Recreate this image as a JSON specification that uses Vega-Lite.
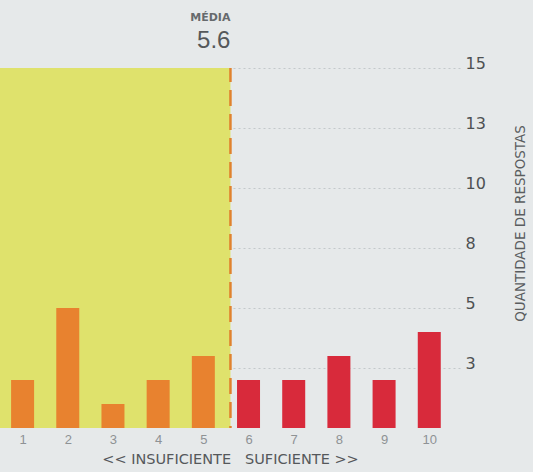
{
  "$schema": "https://vega.github.io/schema/vega-lite/v6.json",
  "width": 460,
  "height": 360,
  "autosize": "none",
  "padding": {"left": 0, "top": 68, "right": 73, "bottom": 44},
  "background": "#e6e9ea",
  "config": {
    "view": {"stroke": null},
    "font": "Liberation Sans"
  },
  "datasets": {
    "scores": [
      {"nota": 1, "respostas": 2, "grupo": "insuficiente"},
      {"nota": 2, "respostas": 5, "grupo": "insuficiente"},
      {"nota": 3, "respostas": 1, "grupo": "insuficiente"},
      {"nota": 4, "respostas": 2, "grupo": "insuficiente"},
      {"nota": 5, "respostas": 3, "grupo": "insuficiente"},
      {"nota": 6, "respostas": 2, "grupo": "suficiente"},
      {"nota": 7, "respostas": 2, "grupo": "suficiente"},
      {"nota": 8, "respostas": 3, "grupo": "suficiente"},
      {"nota": 9, "respostas": 2, "grupo": "suficiente"},
      {"nota": 10, "respostas": 4, "grupo": "suficiente"}
    ],
    "media": [
      {"inicio": 0.5, "media": 5.6, "base": 0, "topo": 15, "rotulo": "MÉDIA", "valor": "5.6"}
    ]
  },
  "layer": [
    {
      "data": {"name": "media"},
      "mark": {"type": "rect", "color": "#dfe26c"},
      "encoding": {
        "x": {"field": "inicio", "type": "quantitative", "scale": {"domain": [0.5, 10.68], "nice": false, "zero": false, "padding": 0},
          "axis": {"values": [1,2,3,4,5,6,7,8,9,10], "domain": false, "ticks": false, "grid": false, "labelColor": "#8e9295", "labelFontSize": 13, "labelPadding": 5,
            "title": "<< INSUFICIENTE\u00a0\u00a0\u00a0SUFICIENTE >>", "titleFont": "DejaVu Sans", "titleFontSize": 14.5, "titleFontWeight": "normal", "titleColor": "#55585b", "titlePadding": 6}},
        "x2": {"field": "media"},
        "y": {"field": "base", "type": "quantitative", "scale": {"domain": [0, 15], "nice": false},
          "axis": {"orient": "right", "values": [2.5, 5, 7.5, 10, 12.5, 15], "labelExpr": "round(datum.value)", "domain": false, "ticks": false,
            "gridColor": "#c3c8cb", "gridDash": [2, 3], "gridWidth": 1, "labelFont": "DejaVu Sans", "labelFontSize": 16, "labelColor": "#4e5153", "labelPadding": 5, "labelBaseline": "alphabetic",
            "title": "QUANTIDADE DE RESPOSTAS", "titleFont": "DejaVu Sans", "titleAngle": -90, "titleFontSize": 13.5, "titleFontWeight": "normal", "titleColor": "#5a5d60", "titlePadding": 42, "titleY": 155}},
        "y2": {"field": "topo"}
      }
    },
    {
      "data": {"name": "scores"},
      "mark": {"type": "bar", "size": 23},
      "encoding": {
        "x": {"field": "nota", "type": "quantitative"},
        "y": {"field": "respostas", "type": "quantitative"},
        "color": {"field": "grupo", "type": "nominal", "scale": {"domain": ["insuficiente", "suficiente"], "range": ["#e8822f", "#d82a3b"]}, "legend": null}
      }
    },
    {
      "data": {"name": "media"},
      "mark": {"type": "rule", "color": "#e0822e", "strokeWidth": 2.5, "strokeDash": [16, 8], "strokeDashOffset": -10},
      "encoding": {
        "x": {"field": "media", "type": "quantitative"},
        "y": {"field": "base", "type": "quantitative"},
        "y2": {"field": "topo"}
      }
    },
    {
      "data": {"name": "media"},
      "mark": {"type": "text", "align": "right", "baseline": "middle", "fontSize": 24, "color": "#55585a", "dx": 0, "dy": -27},
      "encoding": {
        "x": {"field": "media", "type": "quantitative"},
        "y": {"field": "topo", "type": "quantitative"},
        "text": {"field": "valor"}
      }
    },
    {
      "data": {"name": "media"},
      "mark": {"type": "text", "align": "right", "baseline": "middle", "font": "DejaVu Sans", "fontWeight": "bold", "fontSize": 11, "color": "#666a6d", "dx": 0, "dy": -50},
      "encoding": {
        "x": {"field": "media", "type": "quantitative"},
        "y": {"field": "topo", "type": "quantitative"},
        "text": {"field": "rotulo"}
      }
    }
  ]
}
